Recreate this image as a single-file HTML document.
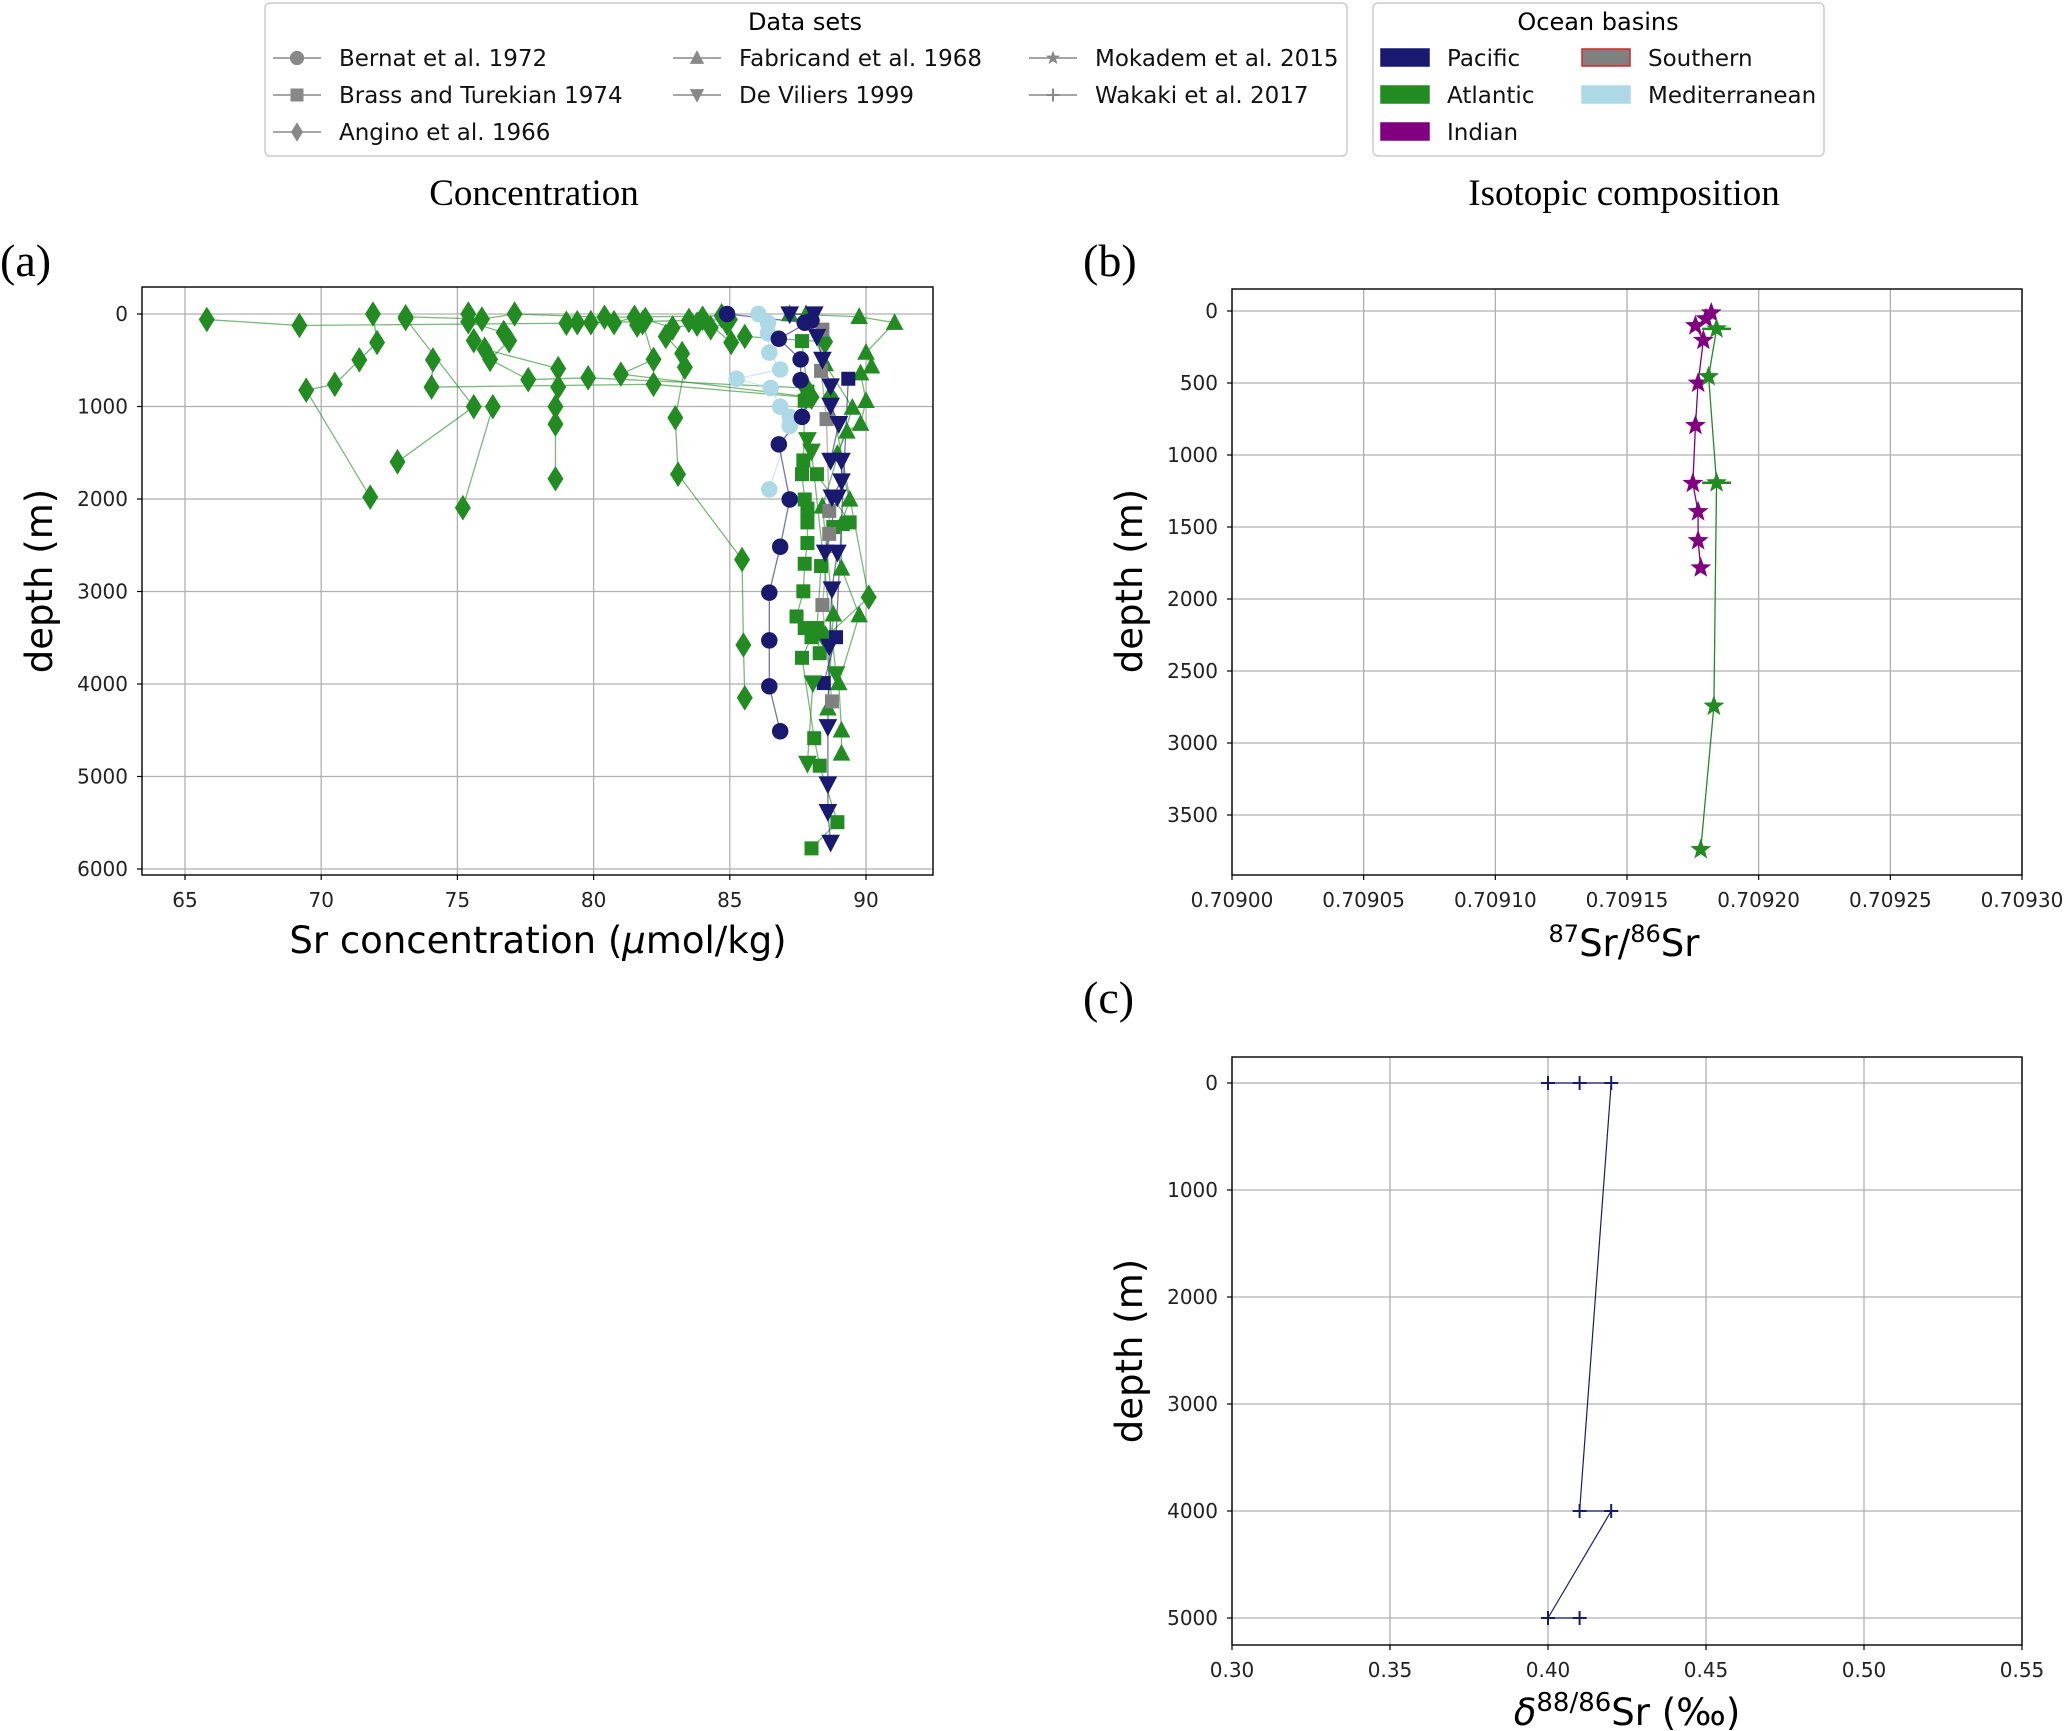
<!DOCTYPE html>
<html><head><meta charset="utf-8"><style>
body{margin:0;background:#fff;}
svg{display:block;font-family:"DejaVu Sans","Liberation Sans",sans-serif;}
.serif{font-family:"Liberation Serif",serif;}
</style></head><body>
<svg id="fig" width="2067" height="1731" viewBox="0 0 2067 1731" xmlns="http://www.w3.org/2000/svg">
<g>
<rect x="265" y="3" width="1082" height="153" rx="5" fill="#fff" stroke="#ccc" stroke-width="1.5"/>
<text x="805" y="30" font-size="24" text-anchor="middle">Data sets</text>
</g>
<g>
<rect x="1373" y="3" width="451" height="153" rx="5" fill="#fff" stroke="#ccc" stroke-width="1.5"/>
<text x="1598" y="30" font-size="24" text-anchor="middle">Ocean basins</text>
</g>
<g id="legItems"></g>
<text class="serif" x="534" y="205" font-size="37" text-anchor="middle">Concentration</text>
<text class="serif" x="1624" y="205" font-size="37" text-anchor="middle">Isotopic composition</text>
<text class="serif" x="0" y="276" font-size="46">(a)</text>
<text class="serif" x="1083" y="276" font-size="46">(b)</text>
<text class="serif" x="1083" y="1013" font-size="46">(c)</text>
<g id="pa"></g><g id="pb"></g><g id="pc"></g>
</svg>
<script>
// ---------- Panel (a) data: [Sr umol/kg, depth m] ----------
const anginoAtl = [
 [[71.9,0],[72.05,308],[71.4,496],[70.5,760],[69.45,824],[71.8,1980]],
 [[65.8,60],[69.2,124],[79.0,100],[85.0,60]],
 [[73.1,30],[75.9,55],[77.1,0],[80.4,35],[84.7,20]],
 [[75.4,0],[75.4,84],[76.7,200],[76.9,288],[76.2,491],[77.6,710],[79.8,690],[87.8,800]],
 [[74.1,496],[74.05,790],[82.2,760],[87.8,900]],
 [[75.6,288],[76.0,382],[78.7,590],[78.7,790],[78.6,1002],[78.6,1190],[78.6,1781]],
 [[73.1,50],[75.6,1002],[72.8,1598]],
 [[76.3,1002],[75.2,2094]],
 [[82.65,243],[83.25,427],[83.35,576],[83.0,1122],[83.1,1732],[85.45,2655],[85.5,3578],[85.55,4149]],
 [[79.4,94],[79.9,94],[80.75,94],[81.5,35],[81.8,94],[82.2,491],[81.0,650],[88.0,900]],
 [[83.5,70],[84.0,45],[85.05,308],[85.55,243],[88.5,300]],
 [[81.6,120],[81.9,60],[82.9,150],[83.8,110],[84.3,150],[84.9,100]],
 [[88.7,900],[90.1,3062],[88.5,3500]]
];
const fabricandAtl = [
 [[87.2,0],[89.75,30],[91.05,94],[90.0,417],[90.2,566],[89.8,640],[90.0,938],[89.8,1186],[89.3,1270],[88.95,1509],[89.4,2005],[89.1,2268],[89.1,2750],[89.75,3256],[89.0,3990],[89.1,4501],[89.1,4750]],
 [[87.8,0],[88.5,541],[89.5,1012],[88.4,2080],[88.8,3246],[88.6,4263]]
];
const brassAtl = [
 [[87.65,293],[87.85,839],[87.75,938],[87.7,1583],[87.65,1732],[87.75,2005],[87.85,2104],[87.85,2253],[87.85,2476],[87.75,2700],[87.7,2998],[87.45,3270],[87.75,3395],[88.0,3494],[87.65,3717],[88.1,4586],[88.3,4883],[88.95,5494],[88.0,5777]],
 [[88.2,1732],[89.4,2253],[88.8,2303],[88.35,2725],[88.2,3395],[88.3,3667]]
];
const brassSou = [[[88.4,169],[88.35,615],[88.55,1136],[88.65,2129],[88.65,2377],[88.4,3146],[88.75,4188]]];
const brassPac = [[[89.35,700],[88.9,3494],[88.45,3990]]];
const bernatPac = [[[84.9,0],[87.75,94],[88.0,70],[86.8,268],[87.6,491],[87.6,715],[87.65,1112],[86.8,1409],[87.2,2005],[86.85,2516],[86.45,3012],[86.45,3529],[86.45,4025],[86.85,4511]]];
const bernatMed = [[[86.05,0],[86.4,94],[86.4,208],[86.45,417],[86.85,600],[85.25,700],[86.5,800],[86.85,1002],[87.2,1112],[87.2,1211],[86.45,1896]]];
const devilPac = [[[87.2,0],[88.1,0],[88.2,243],[88.4,491],[88.7,779],[88.7,988],[89.0,1186],[88.7,1583],[89.1,1583],[89.1,1806],[88.75,1980],[88.95,1980],[88.5,2576],[88.95,2576],[88.75,2973],[88.65,3593],[88.6,4462],[88.6,5082],[88.6,5380],[88.7,5712]]];
const devilAtl = [[[87.85,1360],[88.0,1484],[88.9,3891],[88.05,3990],[87.85,4859]]];
const xTicksA = [65,70,75,80,85,90];
const yTicksA = [0,1000,2000,3000,4000,5000,6000];
// ---------- Panel (b) data ----------
const srRatioInd = [0.709182,0.709180,0.709176,0.709179,0.709177,0.709176,0.709175,0.709177,0.709177,0.709178];
const depthInd   = [13,54,102,204,501,795,1197,1394,1595,1784];
const srRatioAtl = [0.709184,0.709181,0.709184,0.709183,0.709178];
const depthAtl   = [124,456,1193,2744,3740];
const errAtl     = [0.0000055,0,0.0000055,0,0];
const xTicksB = [0.70900,0.70905,0.70910,0.70915,0.70920,0.70925,0.70930];
const yTicksB = [0,500,1000,1500,2000,2500,3000,3500];
// ---------- Panel (c) data ----------
const deltaPac = [0.40,0.41,0.42,0.41,0.42,0.40,0.41];
const depthPac = [0,0,0,4000,4000,5000,5000];
const xTicksC = [0.30,0.35,0.40,0.45,0.50,0.55];
const yTicksC = [0,1000,2000,3000,4000,5000];

const NS='http://www.w3.org/2000/svg';
const COL={pac:'#191970',atl:'#228b22',ind:'#800080',sou:'#808080',med:'#add8e6'};
function mk(tag,attrs,parent){const e=document.createElementNS(NS,tag);for(const k in attrs)e.setAttribute(k,attrs[k]);parent.appendChild(e);return e;}
function marker(type,cx,cy,s,col,parent){
 let e;
 if(type==='circle'){e=mk('circle',{cx:cx,cy:cy,r:s*0.55,fill:col},parent);}
 else if(type==='square'){e=mk('rect',{x:cx-s*0.5,y:cy-s*0.5,width:s,height:s,fill:col},parent);}
 else if(type==='diamond'){e=mk('polygon',{points:`${cx},${cy-s*0.8} ${cx+s*0.5},${cy} ${cx},${cy+s*0.8} ${cx-s*0.5},${cy}`,fill:col},parent);}
 else if(type==='tri'){e=mk('polygon',{points:`${cx},${cy-s*0.6} ${cx+s*0.55},${cy+s*0.45} ${cx-s*0.55},${cy+s*0.45}`,fill:col},parent);}
 else if(type==='tridown'){e=mk('polygon',{points:`${cx},${cy+s*0.6} ${cx+s*0.55},${cy-s*0.45} ${cx-s*0.55},${cy-s*0.45}`,fill:col},parent);}
 else if(type==='star'){let p=[];for(let i=0;i<10;i++){const r=i%2?s*0.24:s*0.58;const a=-Math.PI/2+i*Math.PI/5;p.push((cx+r*Math.cos(a)).toFixed(1)+','+(cy+r*Math.sin(a)).toFixed(1));}e=mk('polygon',{points:p.join(' '),fill:col},parent);}
 else if(type==='plus'){e=mk('path',{d:`M${cx-s/2},${cy}H${cx+s/2}M${cx},${cy-s/2}V${cy+s/2}`,stroke:col,'stroke-width':2,fill:'none'},parent);}
 return e;
}
function axes(g,L,R,T,B,xs,ys,xt,yt,xfmt,yfmt){
 const gg=mk('g',{},g);
 
 
 xt.forEach(v=>{const x=xs(v);mk('line',{x1:x,x2:x,y1:T,y2:B,stroke:'#b0b0b0','stroke-width':1.3},gg);
  const t=mk('text',{x:x,y:B+32,'font-size':20,'text-anchor':'middle',fill:'#222'},g);t.textContent=xfmt(v);
  
  
  mk('line',{x1:x,x2:x,y1:B,y2:B+5,stroke:'#000','stroke-width':1.2},g);});
 yt.forEach(v=>{const y=ys(v);mk('line',{x1:L,x2:R,y1:y,y2:y,stroke:'#b0b0b0','stroke-width':1.3},gg);
  const t=mk('text',{x:L-14,y:y+7,'font-size':20,'text-anchor':'end',fill:'#222'},g);t.textContent=yfmt(v);
  
  
  mk('line',{x1:L-5,x2:L,y1:y,y2:y,stroke:'#000','stroke-width':1.2},g);});
}
function frame(g,L,R,T,B){const r=mk('rect',{x:L,y:T,width:R-L,height:B-T,fill:'none',stroke:'#000','stroke-width':1.4},g);
 
 }
function label(g,x,y,txt,rot,name){const t=mk('text',{x:x,y:y,'font-size':37,'text-anchor':'middle',transform:rot?`rotate(-90 ${x} ${y})`:''},g);t.innerHTML=txt;
 
 }

// ---- Panel a ----
(function(){
 const g=document.getElementById('pa');
 
 
 const L=142,R=933,T=287,B=875;
 const xs=v=>185+(v-65)*681/25, ys=d=>314+d*555/6000;
 g.innerHTML='<clipPath id="ca"><rect x="142" y="287" width="791" height="588"/></clipPath>';
 axes(g,L,R,T,B,xs,ys,xTicksA,yTicksA,v=>v,v=>v);
 const pg=mk('g',{'clip-path':'url(#ca)'},g);
 const sets=[[anginoAtl,'diamond',COL.atl,16],[fabricandAtl,'tri',COL.atl,16],[brassAtl,'square',COL.atl,14],[brassSou,'square',COL.sou,14],[brassPac,'square',COL.pac,14],[bernatMed,'circle',COL.med,15],[bernatPac,'circle',COL.pac,15],[devilPac,'tridown',COL.pac,17],[devilAtl,'tridown',COL.atl,17]];
 sets.forEach(([profiles,type,col,s])=>{profiles.forEach(p=>{
   const pl=mk('polyline',{points:p.map(q=>xs(q[0])+','+ys(q[1])).join(' '),fill:'none',stroke:col,'stroke-width':1.3,'stroke-opacity':0.6},pg);
   
   
 });});
 sets.forEach(([profiles,type,col,s])=>{profiles.forEach(p=>p.forEach(q=>{
   const m=marker(type,xs(q[0]),ys(q[1]),s,col,pg);
   
   
 }));});
 frame(g,L,R,T,B);
 label(g,538,953,'Sr concentration (<tspan font-style="italic">μ</tspan>mol/kg)',false,'x-axis-title');
 label(g,52,581,'depth (m)',true,'y-axis-title');
})();
// ---- Panel b ----
(function(){
 const g=document.getElementById('pb');
 
 
 const L=1232,R=2022,T=289,B=875;
 const xs=v=>1232+(v-0.709)/0.0003*790, ys=d=>311+d*504/3500;
 axes(g,L,R,T,B,xs,ys,xTicksB,yTicksB,v=>v.toFixed(5),v=>v);
 const pi=mk('polyline',{points:srRatioInd.map((v,i)=>xs(v)+','+ys(depthInd[i])).join(' '),fill:'none',stroke:COL.ind,'stroke-width':1.3},g);
 
 
 const pa=mk('polyline',{points:srRatioAtl.map((v,i)=>xs(v)+','+ys(depthAtl[i])).join(' '),fill:'none',stroke:COL.atl,'stroke-width':1.3},g);
 
 
 srRatioAtl.forEach((v,i)=>{if(errAtl[i]>0){const e=mk('line',{x1:xs(v-errAtl[i]),x2:xs(v+errAtl[i]),y1:ys(depthAtl[i]),y2:ys(depthAtl[i]),stroke:COL.atl,'stroke-width':2.5},g);
   
   }});
 srRatioInd.forEach((v,i)=>{const m=marker('star',xs(v),ys(depthInd[i]),19,COL.ind,g);
   
   });
 srRatioAtl.forEach((v,i)=>{const m=marker('star',xs(v),ys(depthAtl[i]),19,COL.atl,g);
   
   });
 frame(g,L,R,T,B);
 label(g,1624,956,'<tspan font-size="24" dy="-14">87</tspan><tspan dy="14">Sr/</tspan><tspan font-size="24" dy="-14">86</tspan><tspan dy="14">Sr</tspan>',false,'x-axis-title');
 label(g,1142,581,'depth (m)',true,'y-axis-title');
})();
// ---- Panel c ----
(function(){
 const g=document.getElementById('pc');
 
 
 const L=1232,R=2022,T=1057,B=1645;
 const xs=v=>1232+(v-0.30)/0.25*790, ys=d=>1083+d*535/5000;
 axes(g,L,R,T,B,xs,ys,xTicksC,yTicksC,v=>v.toFixed(2),v=>v);
 const pl=mk('polyline',{points:deltaPac.map((v,i)=>xs(v)+','+ys(depthPac[i])).join(' '),fill:'none',stroke:COL.pac,'stroke-width':1.2},g);
 
 
 deltaPac.forEach((v,i)=>{const m=marker('plus',xs(v),ys(depthPac[i]),14,COL.pac,g);
   
   });
 frame(g,L,R,T,B);
 label(g,1627,1725,'<tspan font-style="italic">δ</tspan><tspan font-size="26" dy="-14">88/86</tspan><tspan dy="14">Sr (‰)</tspan>',false,'x-axis-title');
 label(g,1142,1351,'depth (m)',true,'y-axis-title');
})();
// ---- Legend items ----
(function(){
 const g=document.getElementById('legItems');
 const ds=[['Bernat et al. 1972','circle',273,58],['Brass and Turekian 1974','square',273,95],['Angino et al. 1966','diamond',273,132],
  ['Fabricand et al. 1968','tri',673,58],['De Viliers 1999','tridown',673,95],['Mokadem et al. 2015','star',1029,58],['Wakaki et al. 2017','plus',1029,95]];
 ds.forEach(([t,type,x,y])=>{
  const e=mk('g',{},g);
  
  
  mk('line',{x1:x,x2:x+48,y1:y,y2:y,stroke:'#888','stroke-width':1.5},e);
  marker(type,x+24,y,type==='diamond'?12:13,'#888',e);
  const tx=mk('text',{x:x+66,y:y+8,'font-size':23,fill:'#111'},e);tx.textContent=t;});
 const bs=[['Pacific',COL.pac,1381,58],['Atlantic',COL.atl,1381,95],['Indian',COL.ind,1381,132],['Southern',COL.sou,1582,58],['Mediterranean',COL.med,1582,95]];
 bs.forEach(([t,c,x,y])=>{
  const e=mk('g',{},g);
  
  
  mk('rect',{x:x,y:y-9,width:48,height:17,fill:c,stroke:t==='Southern'?'#d62728':c,'stroke-width':1.5},e);
  const tx=mk('text',{x:x+66,y:y+8,'font-size':23,fill:'#111'},e);tx.textContent=t;});
})();
</script>
</body></html>
